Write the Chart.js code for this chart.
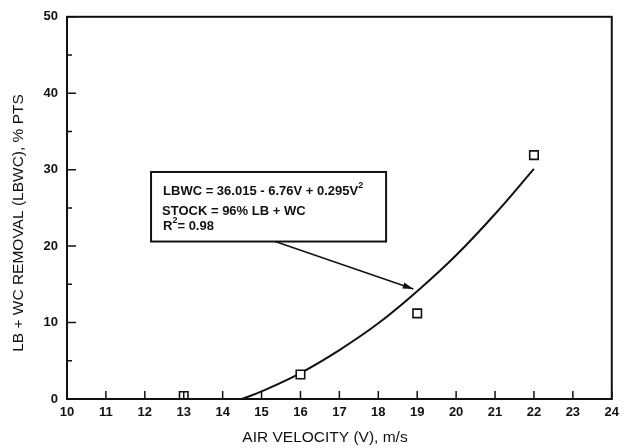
<!DOCTYPE html>
<html>
<head>
<meta charset="utf-8">
<script src="https://cdn.jsdelivr.net/npm/chart.js@4.4.1/dist/chart.umd.min.js"></script>
<style>
  html, body { margin: 0; padding: 0; background: #fff; }
  #wrap { width: 625px; height: 448px; }
</style>
</head>
<body>
<div id="wrap"><canvas id="lbwcChart"></canvas></div>
<script>
// measured points (square markers)
const velocity = [13, 16, 19, 22];
const removal = [0.4, 3.2, 11.2, 31.9];

// fitted curve
const fitVelocity = [14.5, 15, 16, 17, 18, 19, 20, 21, 22];
const fitRemoval = [0, 1.0, 3.4, 6.4, 9.9, 14.1, 18.8, 24.2, 30.1];

const xTicks = [10, 11, 12, 13, 14, 15, 16, 17, 18, 19, 20, 21, 22, 23, 24];
const yTicks = [0, 10, 20, 30, 40, 50];
const yMinorTicks = [5, 15, 25, 35, 45];

const noteLines = ['LBWC = 36.015 - 6.76V + 0.295V', 'STOCK = 96% LB + WC', 'R'];

const FONT = "'Liberation Sans', Arial, sans-serif";

// frame, inward ticks, axis titles, equation box with arrow
const decorations = {
    id: 'decorations',
    afterDraw(chart) {
        const { ctx, chartArea: a, scales: { x, y } } = chart;
        ctx.save();
        ctx.strokeStyle = '#111';
        ctx.lineWidth = 2;
        ctx.strokeRect(a.left, a.top, a.right - a.left, a.bottom - a.top);

        ctx.lineWidth = 1.5;
        ctx.beginPath();
        xTicks.forEach(v => {
            const px = x.getPixelForValue(v);
            ctx.moveTo(px, a.bottom);
            ctx.lineTo(px, a.bottom - 8);
        });
        yTicks.forEach(v => {
            const py = y.getPixelForValue(v);
            ctx.moveTo(a.left, py);
            ctx.lineTo(a.left + 9, py);
        });
        yMinorTicks.forEach(v => {
            const py = y.getPixelForValue(v);
            ctx.moveTo(a.left, py);
            ctx.lineTo(a.left + 5, py);
        });
        ctx.stroke();

        // axis titles
        ctx.fillStyle = '#111';
        ctx.font = '15.5px ' + FONT;
        ctx.textAlign = 'center';
        ctx.textBaseline = 'middle';
        ctx.fillText('AIR VELOCITY (V), m/s', 325, 438);
        ctx.save();
        ctx.translate(19, 223);
        ctx.rotate(-Math.PI / 2);
        ctx.fillText('LB + WC REMOVAL (LBWC), % PTS', 0, 0);
        ctx.restore();

        // equation box
        const bx = x.getPixelForValue(12.16), by = y.getPixelForValue(29.7);
        const bw = x.getPixelForValue(18.2) - bx, bh = y.getPixelForValue(20.6) - by;
        ctx.fillStyle = '#fff';
        ctx.fillRect(bx, by, bw, bh);
        ctx.lineWidth = 2;
        ctx.strokeRect(bx, by, bw, bh);

        ctx.fillStyle = '#111';
        ctx.textAlign = 'left';
        ctx.textBaseline = 'alphabetic';
        ctx.font = 'bold 13px ' + FONT;
        const tx = bx + 11;
        ctx.fillText(noteLines[0], tx + 1, by + 23);
        const w = ctx.measureText(noteLines[0]).width;
        ctx.fillText(noteLines[1], tx, by + 43);
        ctx.fillText(noteLines[2], tx + 1, by + 58);
        const w3 = ctx.measureText(noteLines[2]).width;
        ctx.font = 'bold 9px ' + FONT;
        ctx.fillText('2', tx + 1 + w, by + 16);
        ctx.fillText('2', tx + 1 + w3, by + 51);
        ctx.font = 'bold 13px ' + FONT;
        ctx.fillText('= 0.98', tx + 1 + w3 + 5, by + 58);

        // arrow
        const x0 = x.getPixelForValue(15.35), y0 = y.getPixelForValue(20.6);
        const x1 = x.getPixelForValue(18.9), y1 = y.getPixelForValue(14.4);
        ctx.lineWidth = 1.5;
        ctx.beginPath();
        ctx.moveTo(x0, y0);
        ctx.lineTo(x1, y1);
        ctx.stroke();
        const ang = Math.atan2(y1 - y0, x1 - x0);
        ctx.beginPath();
        ctx.moveTo(x1, y1);
        ctx.lineTo(x1 - 11 * Math.cos(ang - 0.3), y1 - 11 * Math.sin(ang - 0.3));
        ctx.lineTo(x1 - 11 * Math.cos(ang + 0.3), y1 - 11 * Math.sin(ang + 0.3));
        ctx.closePath();
        ctx.fill();
        ctx.restore();
    }
};

const ctx = document.getElementById('lbwcChart').getContext('2d');
const lbwcChart = new Chart(ctx, {
    type: 'scatter',
    data: {
        datasets: [{
            label: 'Fit',
            data: fitVelocity.map((v, i) => ({ x: v, y: fitRemoval[i] })),
            showLine: true,
            borderColor: '#111',
            borderWidth: 2,
            pointRadius: 0,
            tension: 0.4,
            order: 2
        }, {
            label: 'Measured',
            data: velocity.map((v, i) => ({ x: v, y: removal[i] })),
            pointStyle: 'rect',
            pointRadius: 6,
            borderColor: '#111',
            borderWidth: 1.6,
            backgroundColor: '#fff',
            order: 1
        }]
    },
    options: {
        responsive: true,
        maintainAspectRatio: false,
        animation: false,
        layout: { padding: { left: 0, right: 13, top: 14, bottom: 0 } },
        plugins: {
            legend: { display: false },
            tooltip: { enabled: false }
        },
        scales: {
            x: {
                type: 'linear',
                min: 10,
                max: 24,
                afterBuildTicks: s => { s.ticks = xTicks.map(v => ({ value: v })); },
                afterFit: s => { s.height = 49; },
                ticks: { color: '#111', font: { family: FONT, size: 13, weight: 'bold' }, padding: 6 },
                grid: { display: false, drawTicks: false },
                border: { display: false }
            },
            y: {
                min: 0,
                max: 50,
                afterBuildTicks: s => { s.ticks = yTicks.map(v => ({ value: v })); },
                afterFit: s => { s.width = 67; },
                ticks: { color: '#111', font: { family: FONT, size: 13, weight: 'bold' }, padding: 9 },
                grid: { display: false, drawTicks: false },
                border: { display: false }
            }
        }
    },
    plugins: [decorations]
});
</script>
</body>
</html>
